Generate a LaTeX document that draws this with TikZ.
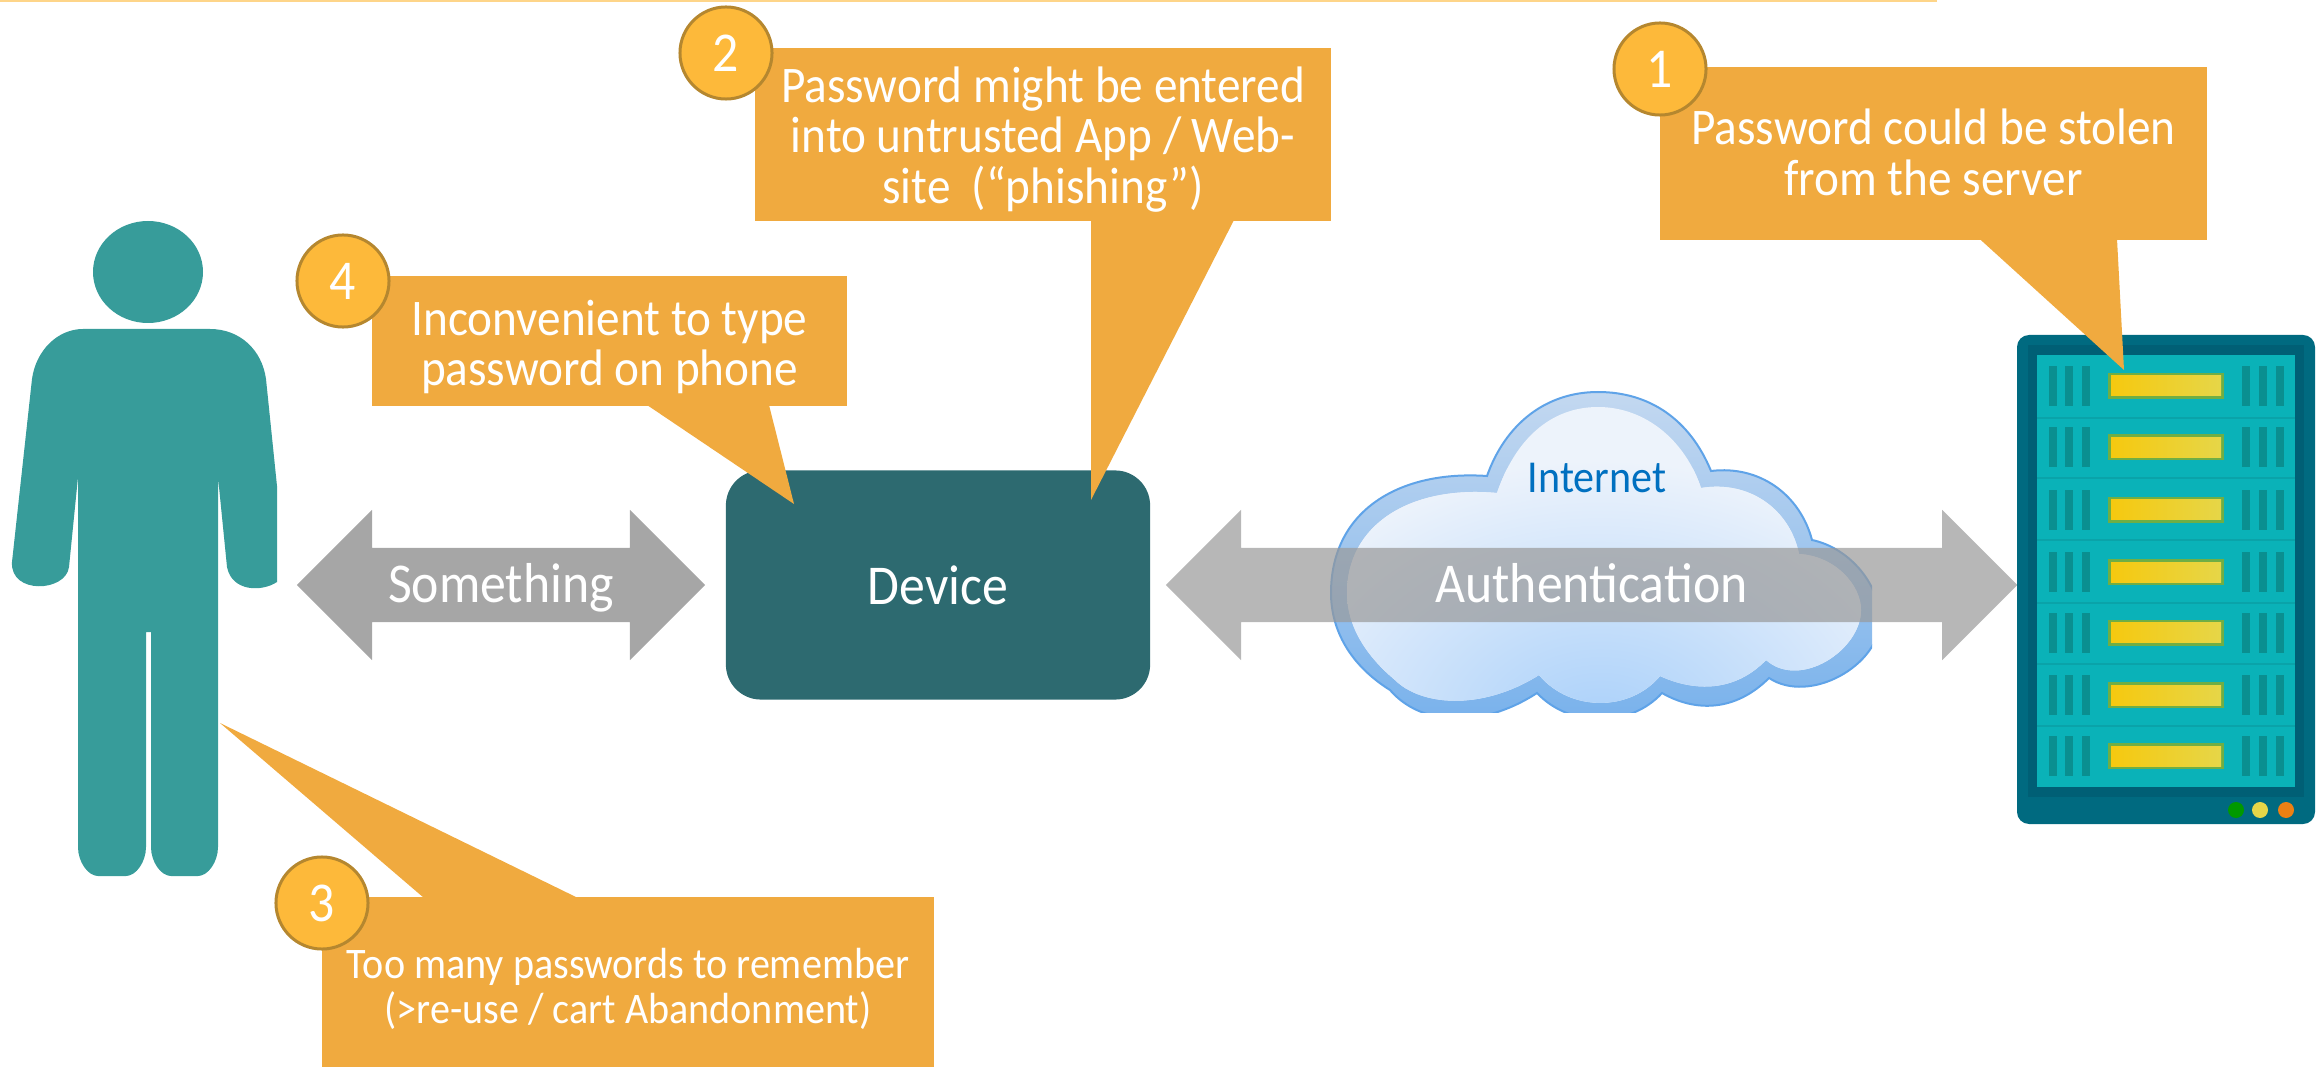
\documentclass[tikz,border=0pt]{standalone}
\usepackage{fontspec}
\setmainfont{Carlito}[FakeStretch=0.92]
\usetikzlibrary{shapes.arrows}
\definecolor{calloutfill}{HTML}{F0AA3F}
\definecolor{badgefill}{HTML}{FDB93A}
\definecolor{badgeline}{HTML}{B5872F}
\definecolor{persongreen}{HTML}{379C9A}
\definecolor{devicegreen}{HTML}{2D6A70}
\definecolor{serverouter}{HTML}{006A80}
\definecolor{serverband}{HTML}{005F75}
\definecolor{serverpanel}{HTML}{0AB2B8}
\definecolor{serverline}{HTML}{0AA3A9}
\definecolor{servervent}{HTML}{0A8F90}
\definecolor{serverglow}{HTML}{6FAE45}
\definecolor{barleft}{HTML}{F6C90F}
\definecolor{barright}{HTML}{E6D648}
\definecolor{cloudline}{HTML}{5FA3E8}
\definecolor{cloudrim}{HTML}{C3D8F0}
\definecolor{cloudpale}{HTML}{EDF3FB}
\definecolor{cloudblue}{HTML}{A9D0FA}
\definecolor{internetblue}{HTML}{0070C0}
\begin{document}
\begin{tikzpicture}[x=0.01cm,y=-0.01cm,
                box/.style = {fill=calloutfill, inner sep=0pt},
                note/.style = {text=white, align=center, inner sep=0pt, font=\fontsize{14.6}{14.4}\selectfont},
                tail/.style = {fill=calloutfill},
                badge/.style = {circle, fill=badgefill, draw=badgeline, line width=0.03cm, minimum size=0.92cm, inner sep=0pt, text=white, font=\fontsize{16}{16}\selectfont},
                link/.style = {double arrow, double arrow head extend=0.38cm, text=white, inner xsep=0pt, inner ysep=0.12cm, text height=0.415cm, text depth=0.075cm, font=\fontsize{16}{16}\selectfont}]
                \useasboundingbox (0,0) rectangle (2318,1067);
                % top rule
                \fill[badgefill!60] (0,0) rectangle (1937,2);
                % person
                \fill[persongreen] (148,272) ellipse (55 and 51);
                \fill[persongreen] (83,329) -- (210,329) .. controls (240,329) and (262,350) .. (266,379)
                    -- (277,486) -- (277,582) .. controls (262,592) and (232,592) .. (227,567) -- (218,477)
                    -- (218,847) .. controls (218,862) and (208,876) .. (198,876) -- (171,876)
                    .. controls (161,876) and (151,862) .. (151,847) -- (151,632) -- (146,632) -- (146,847)
                    .. controls (146,862) and (136,876) .. (126,876) -- (98,876)
                    .. controls (88,876) and (78,862) .. (78,847) -- (78,477) -- (69,567)
                    .. controls (66,592) and (10,595) .. (12,562) -- (32,379)
                    .. controls (36,350) and (58,329) .. (83,329) -- cycle;
                % cloud
                \begin{scope}
                    \clip (1300,370) rectangle (1872,712);
                    \path[draw=cloudline, line width=0.02cm, top color=cloudrim, bottom color=cloudline!85]
                        (1487,476) .. controls (1505,425) and (1545,392) .. (1598,392)
                        .. controls (1650,392) and (1690,420) .. (1711,471)
                        .. controls (1760,465) and (1800,495) .. (1812,540)
                        .. controls (1850,548) and (1880,585) .. (1880,620)
                        .. controls (1880,665) and (1810,705) .. (1769,678)
                        .. controls (1735,712) and (1695,712) .. (1662,693)
                        .. controls (1630,728) and (1570,728) .. (1537,693)
                        .. controls (1480,730) and (1420,725) .. (1390,690)
                        .. controls (1350,665) and (1331,630) .. (1331,593)
                        .. controls (1331,510) and (1400,470) .. (1487,476) -- cycle;
                    \clip (1497,493) .. controls (1515,440) and (1550,407) .. (1598,407)
                        .. controls (1645,407) and (1685,440) .. (1701,488)
                        .. controls (1750,480) and (1790,510) .. (1799,554)
                        .. controls (1835,556) and (1861,585) .. (1861,610)
                        .. controls (1861,650) and (1800,690) .. (1766,660)
                        .. controls (1735,692) and (1695,692) .. (1660,676)
                        .. controls (1630,712) and (1570,712) .. (1539,675)
                        .. controls (1480,712) and (1420,705) .. (1395,680)
                        .. controls (1365,655) and (1347,625) .. (1347,593)
                        .. controls (1347,525) and (1410,485) .. (1497,493) -- cycle;
                    \fill[cloudpale] (1300,370) rectangle (1900,720);
                    \shade[inner color=cloudblue, outer color=cloudpale] (1600,730) ellipse (370 and 270);
                \end{scope}
                \node[text=internetblue, font=\fontsize{13}{13}\selectfont] (internet) at (1597,478) {Internet};
                % device
                \node[fill=devicegreen, rounded corners=0.35cm, minimum width=4.24cm, minimum height=2.29cm, text=white, font=\fontsize{16}{16}\selectfont] (device) at (938,585) {Device};
                % links
                \node[link, fill=black!35, minimum height=4.08cm, minimum width=1.49cm] (something) at (501,585) {Something};
                \node[link, fill=black!40, fill opacity=.7, text opacity=1, minimum height=8.51cm, minimum width=1.49cm] (authentication) at (1591.5,585) {Authentication};
                % server
                \fill[serverouter, rounded corners=0.12cm] (2017,335) rectangle (2315,824);
                \fill[serverband] (2028,345) rectangle (2304,797);
                \fill[serverpanel] (2037,355) rectangle (2295,787);
                \foreach \dy in {417,477.5,538.5,602,662.5,725}
                    \fill[serverline] (2037,\dy) rectangle (2295,\dy+2);
                \foreach \cy in {386,447.5,510,572,632.5,695,756} {
                    \foreach \vx in {2049,2065,2082,2242,2259,2276}
                        \fill[servervent] (\vx,\cy-20) rectangle (\vx+8,\cy+20);
                    \fill[serverglow] (2108,\cy-13) rectangle (2224,\cy+13);
                    \fill[left color=barleft, right color=barright] (2111,\cy-10) rectangle (2221,\cy+10);
                }
                \fill[green!60!black] (2236,810) circle (8);
                \fill[barright] (2260,810) circle (8);
                \fill[orange!70!brown] (2286,810) circle (8);
                % callouts
                \node[box, minimum width=5.47cm, minimum height=1.73cm] (box1) at (1933.5,153.5) {};
                \node[box, minimum width=5.76cm, minimum height=1.73cm] (box2) at (1043,134.5) {};
                \node[box, minimum width=4.75cm, minimum height=1.30cm] (box4) at (609.5,341) {};
                \node[box, minimum width=6.12cm, minimum height=1.70cm] (box3) at (628,982) {};
                \fill[tail] (box1.south) ++(47,-1) -- (2124,370) -- (2117,239) -- (1981,239) -- cycle;
                \fill[tail] (1091,220) -- (1091,500) -- (1234,220) -- cycle;
                \fill[tail] (647,405) -- (794,504) -- (769,405) -- cycle;
                \fill[tail] (424,898) -- (220,723) -- (578,898) -- cycle;
                \node[note, yshift=0.01cm] (note1) at (box1) {Password could be stolen\\from the server};
                \node[note, yshift=-0.05cm] (note2) at (box2) {Password might be entered\\into untrusted App / Web-\\site~~(“phishing”)};
                \node[note, yshift=-0.06cm] (note4) at (box4) {Inconvenient to type\\password on phone};
                \node[note, yshift=-0.07cm, font=\fontsize{12.4}{13}\selectfont] (note3) at (box3) {Too many passwords to remember\\(>re-use / cart Abandonment)};
                \node[badge] (one) at (1660,69) {1};
                \node[badge] (two) at (726,53) {2};
                \node[badge] (three) at (322,903) {3};
                \node[badge] (four) at (343,281) {4};
            \end{tikzpicture}
\end{document}
